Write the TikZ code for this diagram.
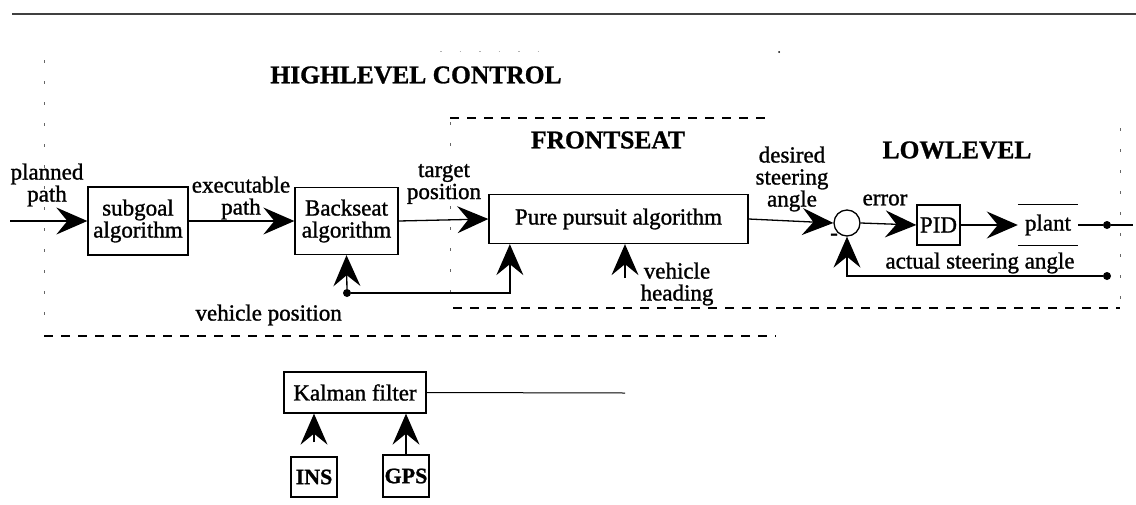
\documentclass[tikz,border=0pt]{standalone}
\usepackage{fontspec}
\setmainfont{Liberation Serif}[UprightFeatures={FakeBold=1.2},BoldFeatures={FakeBold=1}]
\usetikzlibrary{arrows.meta}
\begin{document}
\begin{tikzpicture}[x=1pt,y=-1pt,
  every node/.style={font=\fontsize{23}{22}\selectfont, inner sep=0pt},
  blk/.style={draw, line width=1.3pt, align=center},
  lbl/.style={align=center},
  title/.style={font=\fontsize{25.5}{28}\selectfont\bfseries},
  arr/.style={-{Stealth[length=31pt,width=27pt,inset=11pt]}, line width=1.3pt},
  wire/.style={line width=1.3pt},
  bdash/.style={line width=1.1pt, dash pattern=on 9pt off 8pt},
  sparse/.style={line width=1pt, black!60, dash pattern=on 3pt off 18pt},
  faint/.style={line width=1pt, black!30, dash pattern=on 1.5pt off 18pt},
  dotn/.style={circle, fill, inner sep=0pt, minimum size=8pt}
]
\useasboundingbox (0,0) rectangle (1136,504);

% rule across the top
\draw[line width=1.1pt, black!75] (12,14) -- (1136,14);

% region frames
\draw[faint] (440,51) -- (556,51);
\fill (779,52) circle (1pt);
\draw[sparse] (44,60) -- (44,330);
\draw[bdash] (44,336) -- (776,336);
\draw[bdash] (450,118) -- (767,118);
\draw[sparse] (450,122) -- (450,300);
\draw[bdash] (453,308) -- (1120,308);
\draw[sparse] (1120,128) -- (1120,306);

% region titles
\node[title] (thigh) at (416,75) {HIGHLEVEL CONTROL};
\node[title] (tfront) at (608,140) {FRONTSEAT};
\node[title] (tlow) at (957,150) {LOWLEVEL};

% blocks
\node[blk, minimum width=100pt, minimum height=68pt] (sub) at (138,221) {subgoal\\algorithm};
\node[blk, minimum width=103pt, minimum height=67pt] (back) at (346.5,221) {Backseat\\algorithm};
\node[blk, minimum width=259pt, minimum height=49pt] (pure) at (618.5,219) {Pure pursuit algorithm};
\node[circle, draw, line width=1.3pt, minimum size=26pt] (sum) at (847,223) {};
\node[blk, minimum width=43pt, minimum height=40pt] (pid) at (938.5,225) {PID};
\node[minimum width=60pt, minimum height=41pt] (plant) at (1048,225) {plant};
\draw[wire] (plant.north west) -- (plant.north east);
\draw[wire] (plant.south west) -- (plant.south east);

\node[blk, minimum width=142pt, minimum height=41pt] (kal) at (355,392.5) {Kalman filter};
\node[blk, font=\fontsize{22}{24}\selectfont\bfseries, minimum width=46pt, minimum height=40pt] (ins) at (314,477) {INS};
\node[blk, font=\fontsize{22}{24}\selectfont\bfseries, minimum width=46pt, minimum height=42pt] (gps) at (406,476) {GPS};

% signal labels
\node[lbl] (lplan) at (47,185) {planned\\path};
\node[lbl] (lexec) at (241,198) {executable\\path};
\node[lbl] (ltarget) at (444,184) {target\\position};
\node[lbl] (ldes) at (792,179) {desired\\steering\\angle};
\node (lerr) at (885,200) {error};
\node (lact) at (980,263) {actual steering angle};
\node[lbl] (lhead) at (677,284) {vehicle\\heading};
\node[anchor=east] (lpos) at (342,315) {vehicle position};
\node (lminus) at (834,237) {-};

% forward path
\coordinate (in) at (10,221);
\draw[arr] (in) -- (sub.west);
\draw[arr] (sub.east) -- (back.west);
\draw[arr] (back.east) -- (pure.west);
\draw[arr] (pure.east) -- (sum.west);
\draw[arr] (sum.east) -- (pid.west);
\draw[arr] (pid.east) -- (plant.west);
\node[dotn] (out) at (1107,225) {};
\coordinate (outend) at (1133,225);
\draw[wire] (plant.east) -- (out) -- (outend);

% steering feedback
\node[dotn] (fb) at (1107,276) {};
\draw[arr] (fb) -- (sum.south |- fb) -- (sum.south);

% vehicle position and heading inputs
\node[dotn] (vp) at (347,293) {};
\draw[arr] (vp) -- (back.south);
\draw[arr] (vp) -| ([xshift=21.5pt]pure.south west);
\coordinate (vh) at (625,278);
\draw[arr] (vh) -- (vh |- pure.south);

% navigation sensors
\draw[arr, shorten <=14pt] (ins.north) -- (ins.north |- kal.south);
\draw[arr] (gps.north) -- (gps.north |- kal.south);
\coordinate (kend) at (625,393);
\draw[line width=1pt] (kal.east) -- (kend);
\end{tikzpicture}
\end{document}
